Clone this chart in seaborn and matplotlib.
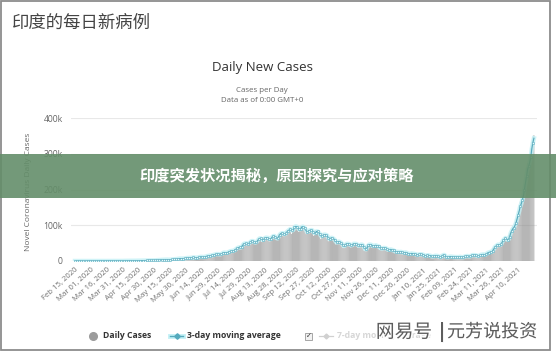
import numpy as np
import pandas as pd
import matplotlib
matplotlib.use("Agg")
import matplotlib.pyplot as plt
import matplotlib.patheffects as pe
from matplotlib.lines import Line2D
from matplotlib.patches import Rectangle
import seaborn as sns

# ---------------- texts ----------------
page_title = "印度的每日新病例"
chart_title = "Daily New Cases"
subtitle_1 = "Cases per Day"
subtitle_2 = "Data as of 0:00 GMT+0"
y_label = "Novel Coronavirus Daily Cases"
banner_text = "印度突发状况揭秘，原因探究与应对策略"
watermark_left = "网易号"
watermark_right = "元芳说投资"
legend_labels = ["Daily Cases", "3-day moving average", "7-day moving average"]
start_date = "2020-02-15"
y_ticks = [0, 100000, 200000, 300000, 400000]
y_tick_labels = ["0", "100k", "200k", "300k", "400k"]

# ---------------- daily new cases (thousands) ----------------
cases_2020_feb = [0, 0, 0, 0, 0, 0, 0, 0, 0, 0, 0, 0, 0, 0, 0]
cases_2020_mar = [0, 0, 0, 0.02, 0, 0, 0.01, 0.01, 0.02, 0.01, 0.01, 0.01, 0.01, 0.02, 0.01, 0.01,
                  0.01, 0.01, 0.02, 0.05, 0.05, 0.08, 0.07, 0.08, 0.09, 0.07, 0.15, 0.15, 0.12, 0.18, 0.23]
cases_2020_apr = [0.6, 0.4, 0.5, 0.6, 0.5, 0.6, 0.6, 0.5, 0.6, 0.9, 0.8, 0.9, 0.8, 1.2, 1.0,
                  0.9, 1.1, 1.0, 1.3, 1.5, 1.3, 1.5, 1.7, 1.4, 1.8, 1.6, 1.6, 1.5, 1.9, 1.8]
cases_2020_may = [2.4, 2.3, 2.5, 3.0, 2.9, 3.6, 3.4, 3.3, 3.3, 4.3, 3.6, 3.6, 3.5, 3.7, 3.9, 3.9,
                  4.9, 5.2, 4.6, 5.6, 5.6, 6.6, 6.7, 6.8, 6.7, 6.4, 6.4, 7.3, 7.5, 8.4, 8.8]
cases_2020_jun = [8.4, 8.2, 9.6, 9.3, 9.9, 10.4, 9.9, 8.4, 9.9, 10.0, 11.3, 11.5, 11.9, 11.5, 10.7,
                  11.1, 13.1, 12.9, 14.5, 14.9, 15.4, 14.8, 15.7, 16.9, 17.3, 18.6, 19.9, 19.5, 18.7, 18.8]
cases_2020_jul = [18.6, 19.2, 22.7, 24.3, 24.0, 22.3, 22.6, 24.8, 25.6, 27.1, 28.6, 28.2, 27.9, 28.2,
                  32.7, 34.9, 35.3, 38.9, 38.7, 37.1, 37.2, 45.7, 49.3, 48.9, 48.7, 50.1, 47.7, 48.7,
                  52.2, 55.1, 57.7]
cases_2020_aug = [54.7, 53.0, 50.6, 51.3, 56.3, 62.3, 62.2, 65.0, 62.1, 53.6, 61.3, 66.9, 64.3, 64.8,
                  65.6, 63.5, 55.0, 64.5, 68.9, 69.7, 69.9, 69.9, 61.4, 60.9, 67.1, 75.8, 77.3, 76.7,
                  78.5, 78.8, 69.2]
cases_2020_sep = [78.2, 83.9, 83.3, 86.4, 90.6, 90.8, 75.8, 89.7, 95.7, 96.6, 97.6, 94.4, 92.1, 81.9,
                  91.0, 97.9, 97.0, 93.3, 92.8, 87.4, 75.1, 83.3, 86.5, 86.1, 85.4, 88.6, 82.8, 70.6,
                  80.5, 86.7]
cases_2020_oct = [81.5, 79.5, 75.8, 74.4, 61.3, 72.0, 78.5, 70.5, 73.3, 74.4, 66.7, 55.3, 63.5, 67.7,
                  63.4, 62.2, 61.9, 55.7, 46.8, 54.0, 55.8, 53.4, 50.1, 50.3, 45.2, 36.5, 43.9, 49.9,
                  48.6, 46.9, 48.3]
cases_2020_nov = [46.9, 38.3, 46.3, 50.2, 47.6, 46.3, 50.4, 45.7, 38.1, 44.3, 47.9, 44.9, 44.9, 41.1,
                  29.2, 30.5, 38.6, 45.6, 45.9, 46.2, 45.2, 44.0, 37.9, 44.4, 44.5, 43.1, 41.3, 41.8,
                  38.8, 31.1]
cases_2020_dec = [36.6, 36.6, 35.6, 36.6, 36.7, 32.9, 28.6, 32.1, 33.5, 31.4, 30.0, 30.2, 28.1, 24.1,
                  27.4, 25.0, 24.9, 25.2, 25.1, 26.6, 21.6, 23.9, 24.7, 23.1, 23.1, 19.7, 18.4, 21.0,
                  21.8, 20.5, 20.1]
cases_2021_jan = [20.0, 19.0, 18.1, 16.5, 18.1, 20.3, 18.1, 18.1, 18.2, 16.9, 12.6, 15.9, 16.9, 15.6,
                  15.2, 15.1, 13.8, 10.1, 13.8, 15.2, 14.5, 14.3, 14.3, 13.2, 9.1, 12.7, 11.7, 18.9,
                  18.9, 13.1, 11.6]
cases_2021_feb = [8.6, 11.0, 12.9, 12.4, 12.1, 11.8, 11.9, 9.1, 12.9, 11.1, 9.3, 12.1, 12.2, 11.6,
                  9.1, 11.6, 11.6, 13.2, 14.0, 13.9, 14.3, 10.6, 13.7, 16.7, 16.6, 16.5, 16.8, 16.0]
cases_2021_mar = [15.5, 12.3, 14.9, 17.4, 16.8, 18.3, 18.7, 18.6, 15.4, 20.5, 22.9, 23.3, 25.0, 25.3,
                  26.3, 24.5, 35.9, 39.7, 40.9, 43.8, 46.9, 46.9, 40.7, 47.3, 53.5, 59.1, 62.3, 62.7,
                  68.0, 56.2, 53.5]
cases_2021_apr = [72, 78, 84, 90, 97, 93, 108, 118, 126, 140, 152, 166, 162, 183, 200, 216, 234,
                  261, 274, 259, 295, 315, 332, 346, 352]

monthly = [cases_2020_feb, cases_2020_mar, cases_2020_apr, cases_2020_may, cases_2020_jun,
           cases_2020_jul, cases_2020_aug, cases_2020_sep, cases_2020_oct, cases_2020_nov,
           cases_2020_dec, cases_2021_jan, cases_2021_feb, cases_2021_mar, cases_2021_apr]
cases = np.concatenate([np.asarray(m, dtype=float) for m in monthly]) * 1000
n = len(cases)
dates = pd.date_range(start_date, periods=n, freq="D")
df = pd.DataFrame({"day": np.arange(n), "cases": cases})
df["ma3"] = df["cases"].rolling(3, min_periods=1).mean()

# ---------------- figure ----------------
W, H = 556, 352
fig = plt.figure(figsize=(W / 100, H / 100), dpi=100)
fig.patch.set_facecolor("white")
LAT = ["Open Sans", "DejaVu Sans"]
CJK = ["Noto Sans CJK SC", "DejaVu Sans"]

def fx(px):
    return px / W

def fy(py):
    return 1 - py / H

ax_l, ax_r, ax_t, ax_b = 71, 537, 118, 261
ax = fig.add_axes([fx(ax_l), fy(ax_b), (ax_r - ax_l) / W, (ax_b - ax_t) / H])
ax.set_facecolor("white")

sns.barplot(data=df, x="day", y="cases", color="#8c8c8c", saturation=1, width=0.6,
            errorbar=None, linewidth=0, ax=ax, zorder=2)
for p in ax.patches:
    p.set_snap(False)
    p.set_antialiased(True)
sns.lineplot(data=df, x="day", y="ma3", color="#c4f1f6", linewidth=3.2, alpha=0.8,
             ax=ax, zorder=3)
sns.lineplot(data=df, x="day", y="ma3", color="#55aabd", linewidth=0.8, marker="o",
             markersize=1.7, markerfacecolor="#e6f9fb", markeredgecolor="#55aabd",
             markeredgewidth=0.4, markevery=2, ax=ax, zorder=4)

px_per_day = 1.055
ax.set_xlim(-(75 - ax_l) / px_per_day, (ax_r - 75) / px_per_day)
ax.set_ylim(0, 400000)
ax.set_yticks(y_ticks)
ax.set_yticklabels(y_tick_labels, fontsize=6.2, color="#666666", family=LAT)
tick_idx = list(range(0, n, 15))[:29]
ax.set_xticks(tick_idx)
ax.set_xticklabels([dates[i].strftime("%b %d, %Y") for i in tick_idx], rotation=42,
                   ha="right", rotation_mode="anchor", fontsize=5.6, color="#707070", family=LAT)
ax.tick_params(axis="both", length=0)
ax.tick_params(axis="y", pad=6)
ax.tick_params(axis="x", pad=4)
ax.grid(axis="y", color="#e8e8e8", linewidth=0.8)
ax.grid(axis="x", visible=False)
ax.set_axisbelow(True)
for s in ax.spines.values():
    s.set_visible(False)
ax.set_xlabel("")
ax.set_ylabel("")

# ---------------- texts ----------------
fig.text(fx(12), fy(23), page_title, fontsize=12.5, color="#444444", family=CJK,
         ha="left", va="center")
fig.text(fx(262), fy(68), chart_title, fontsize=9.5, color="#333333", family=LAT,
         ha="center", va="center")
fig.text(fx(262), fy(90), subtitle_1, fontsize=5.7, color="#666666", family=LAT,
         ha="center", va="center")
fig.text(fx(262), fy(101), subtitle_2, fontsize=5.7, color="#666666", family=LAT,
         ha="center", va="center")
fig.text(fx(29), fy(192), y_label, fontsize=6, color="#666666", family=LAT,
         ha="center", va="center", rotation=90)

# ---------------- legend ----------------
ly = fy(336)
fig.add_artist(Line2D([fx(93)], [ly], marker="o", markersize=5.5, color="#9c9c9c",
                      linestyle="none", transform=fig.transFigure))
fig.text(fx(103), ly, legend_labels[0], fontsize=6.2, fontweight="bold", color="#333333",
         family=LAT, ha="left", va="center")
fig.add_artist(Line2D([fx(170), fx(183)], [ly, ly], color="#c4f1f6", linewidth=3.5,
                      transform=fig.transFigure))
fig.add_artist(Line2D([fx(170), fx(183)], [ly, ly], color="#55aabd", linewidth=1,
                      transform=fig.transFigure))
fig.add_artist(Line2D([fx(176.5)], [ly], marker="D", markersize=2.8, color="#55aabd",
                      linestyle="none", transform=fig.transFigure))
fig.text(fx(187), ly, legend_labels[1], fontsize=6.2, fontweight="bold", color="#333333",
         family=LAT, ha="left", va="center")
fig.add_artist(Rectangle((fx(305), fy(339.5)), 7 / W, 7 / H, facecolor="#f2f2f2",
                         edgecolor="#999999", linewidth=0.6, transform=fig.transFigure))
fig.text(fx(308.5), ly, "✓", fontsize=5, color="#333333", family=["DejaVu Sans"],
         ha="center", va="center")
fig.add_artist(Line2D([fx(319), fx(333)], [ly, ly], color="#d0d0d0", linewidth=0.9,
                      transform=fig.transFigure))
fig.add_artist(Line2D([fx(326)], [ly], marker="D", markersize=2.5, color="#d0d0d0",
                      linestyle="none", transform=fig.transFigure))
fig.text(fx(337), ly, legend_labels[2], fontsize=6.2, fontweight="bold", color="#d6d6d6",
         family=LAT, ha="left", va="center")

# ---------------- frame ----------------
fig.add_artist(Rectangle((fx(1), fy(350)), 549 / W, 349 / H, fill=False,
                         edgecolor="#8c8c8c", linewidth=1.3, transform=fig.transFigure,
                         zorder=5))

# ---------------- banner overlay ----------------
fig.add_artist(Rectangle((0, fy(197.5)), 1, 43.5 / H, facecolor="#648e6a", alpha=0.9,
                         edgecolor="none", transform=fig.transFigure, zorder=10))
fig.text(fx(277), fy(176), banner_text, fontsize=11, fontweight="bold", color="white",
         family=CJK, ha="center", va="center", zorder=11)

# ---------------- watermark ----------------
halo = [pe.withStroke(linewidth=2.2, foreground="white")]
fig.text(fx(404), fy(332), watermark_left, fontsize=13.5, color="#4d4d4d", family=CJK,
         ha="center", va="center", zorder=12, path_effects=halo, alpha=0.9)
fig.text(fx(442), fy(332), "|", fontsize=13, color="#4d4d4d", family=CJK,
         ha="center", va="center", zorder=12, path_effects=halo, alpha=0.9)
fig.text(fx(492), fy(332), watermark_right, fontsize=13, color="#4d4d4d", family=CJK,
         ha="center", va="center", zorder=12, path_effects=halo, alpha=0.9)

fig.savefig("out.png", dpi=100, facecolor="white")
